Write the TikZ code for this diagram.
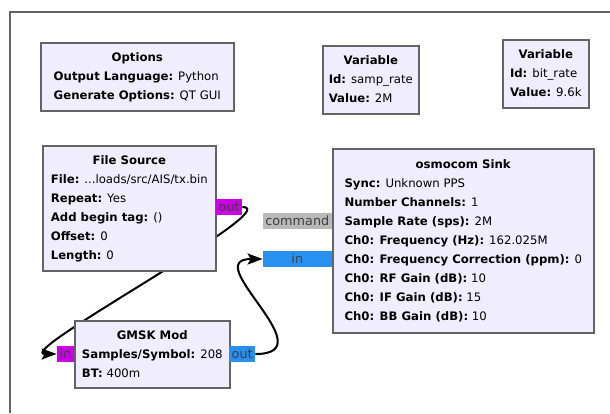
\documentclass[tikz,border=0pt]{standalone}
\usepackage{fontspec}
\setmainfont{DejaVu Sans}
\usetikzlibrary{arrows.meta,backgrounds}

\definecolor{blockfill}{RGB}{240,238,252}
\definecolor{blockline}{RGB}{100,100,100}
\definecolor{bytecol}{RGB}{204,0,230}
\definecolor{cplxcol}{RGB}{40,145,240}
\definecolor{msgcol}{RGB}{185,185,185}

\newcommand{\blocktext}[2]{\begin{tabular}{@{}l@{}}\multicolumn{1}{@{}c@{}}{\textbf{#1}}\\#2\end{tabular}}

\tikzset{
  block/.style={draw=blockline,line width=1.6pt,fill=blockfill,rectangle,anchor=north west,
    inner sep=0pt,font=\fontsize{11.7}{19}\selectfont},
  port/.style={rectangle,inner sep=0pt,minimum height=16pt,text=black!75,
    font=\fontsize{12.8}{14}\selectfont},
  conn/.style={line width=2pt,black,-{Stealth[length=15pt,width=11pt,inset=3pt]}},
}

\begin{document}
\begin{tikzpicture}[x=1pt,y=-1pt]
  \useasboundingbox (0,0) rectangle (610,413);
  %Frame
  \draw[blockline,line width=1.2pt] (10,413) -- (10,12) -- (610,12);

  %Blocks
  \node[block,minimum width=193pt,minimum height=68pt] (options) at (40,42)
    {\blocktext{Options}{\textbf{Output Language:} Python\\\textbf{Generate Options:} QT GUI}};
  \node[block,minimum width=96pt,minimum height=68pt] (samprate) at (322,45)
    {\blocktext{Variable}{\textbf{Id:} samp\_rate\\\textbf{Value:} 2M}};
  \node[block,minimum width=86pt,minimum height=68pt] (bitrate) at (502,39)
    {\blocktext{Variable}{\textbf{Id:} bit\_rate\\\textbf{Value:} 9.6k}};
  \node[block,minimum width=173pt,minimum height=125pt] (filesrc) at (42,145)
    {\blocktext{File Source}{\textbf{File:} ...loads/src/AIS/tx.bin\\\textbf{Repeat:} Yes\\
     \textbf{Add begin tag:} ()\\\textbf{Offset:} 0\\\textbf{Length:} 0}};
  \node[block,minimum width=261pt,minimum height=184pt] (sink) at (332,148)
    {\blocktext{osmocom Sink}{\textbf{Sync:} Unknown PPS\\\textbf{Number Channels:} 1\\
     \textbf{Sample Rate (sps):} 2M\\\textbf{Ch0: Frequency (Hz):} 162.025M\\
     \textbf{Ch0: Frequency Correction (ppm):} 0\\\textbf{Ch0: RF Gain (dB):} 10\\
     \textbf{Ch0: IF Gain (dB):} 15\\\textbf{Ch0: BB Gain (dB):} 10}};
  \node[block,minimum width=155pt,minimum height=67pt] (gmsk) at (74,320)
    {\blocktext{GMSK Mod}{\textbf{Samples/Symbol:} 208\\\textbf{BT:} 400m}};

  %Ports
  \node[port,fill=bytecol,minimum width=26pt,anchor=west] (fsout) at (216,207) {out};
  \node[port,fill=msgcol,minimum width=69pt,anchor=east] (sinkcmd) at (332,221) {command};
  \node[port,fill=cplxcol,minimum width=69pt,anchor=east] (sinkin) at (332,259) {in};
  \node[port,fill=bytecol,minimum width=17pt,anchor=east] (gmskin) at (74,354) {in};
  \node[port,fill=cplxcol,minimum width=26pt,anchor=west] (gmskout) at (229,354) {out};

  %Connections
  \begin{scope}[on background layer]
    \draw[conn] (fsout.east) .. controls +(45,0) and +(-45,0) .. (gmskin.west);
    \draw[conn] (gmskout.east) .. controls +(72,0) and +(-65,0) .. (sinkin.west);
  \end{scope}
\end{tikzpicture}
\end{document}
